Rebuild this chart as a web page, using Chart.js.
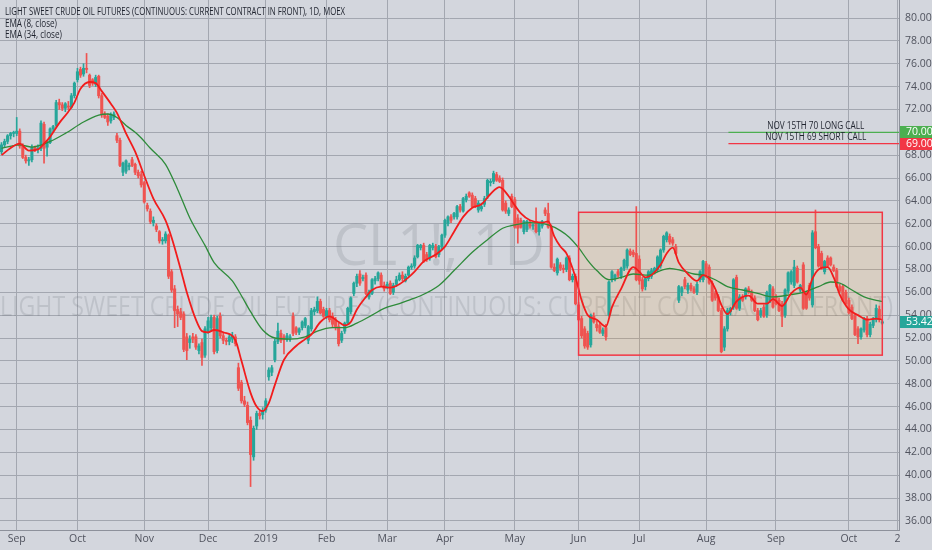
<!DOCTYPE html>
<html>
<head>
<meta charset="utf-8">
<script src="https://cdn.jsdelivr.net/npm/chart.js@4.4.0/dist/chart.umd.min.js"></script>
<style>
  html, body { margin: 0; padding: 0; background: #d3d6dd; overflow: hidden; }
</style>
</head>
<body>
<canvas id="chart" width="932" height="550"></canvas>
<script>
// month label shown at the first bar of each month, and how many daily bars each month has
const monthLabels = ['', 'Sep', 'Oct', 'Nov', 'Dec', '2019', 'Feb', 'Mar', 'Apr', 'May', 'Jun', 'Jul', 'Aug', 'Sep', 'Oct'];
const barsPerMonth = [5, 20, 22, 21, 19, 20, 20, 19, 23, 21, 20, 22, 23, 24, 12];
const futureLabels = ['', '', '', '', '2'];

// daily candles: [open, high, low, close]
const candles = [
  // Aug 2018
  [68.3,69.1,68.1,68.9],[68.9,69.4,68.7,69.2],[69.2,69.8,69.0,69.7],[69.7,70.0,69.4,69.9],[69.9,70.1,69.6,70.0],
  // Sep
  [69.9,71.3,69.7,70.1],[70.1,70.3,68.6,68.8],[68.8,69.0,67.7,67.8],[67.8,68.0,67.3,67.5],[67.5,67.8,67.1,67.6],
  [67.6,68.9,67.4,68.7],[68.7,68.8,68.3,68.5],[68.5,68.9,68.2,68.6],[68.6,71.0,68.4,70.8],[70.7,70.9,67.3,68.6],
  [68.7,69.3,67.9,69.1],[69.1,70.4,69.0,70.3],[70.3,70.6,70.0,70.5],[70.6,72.8,70.5,72.6],[72.6,72.9,72.0,72.4],
  [72.4,72.6,71.9,72.1],[72.1,72.6,71.8,72.5],[72.3,72.7,72.0,72.2],[72.2,73.4,72.1,73.2],[73.2,74.4,73.0,74.3],
  // Oct
  [74.6,75.6,74.4,75.3],[75.5,75.7,74.8,75.0],[75.1,76.0,74.9,75.6],[75.6,76.9,75.2,75.5],[75.0,75.1,73.9,74.1],
  [74.6,74.7,74.1,74.3],[74.2,75.0,74.0,74.8],[74.9,75.0,73.0,73.2],[73.2,73.4,71.3,71.6],[71.6,71.8,71.2,71.3],
  [71.4,71.6,70.6,70.9],[71.0,71.7,70.8,71.5],[71.3,71.8,71.1,71.6],[69.7,69.9,69.1,69.3],[69.3,69.5,67.0,67.1],
  [66.5,67.4,66.2,67.3],[66.6,67.6,66.4,67.5],[67.0,67.3,66.7,67.1],[67.6,67.8,67.0,67.1],[67.2,67.3,66.3,66.5],
  [66.5,66.7,66.0,66.2],[66.3,66.6,65.2,65.4],
  // Nov
  [65.6,65.7,63.8,63.9],[63.6,63.8,63.1,63.3],[63.1,63.3,62.0,62.2],[62.1,62.6,61.8,62.3],[61.8,62.0,61.3,61.5],
  [61.3,61.4,60.3,60.5],[60.5,60.8,60.2,60.6],[60.5,61.3,60.3,61.1],[61.0,61.1,57.2,57.4],[57.8,58.0,56.0,56.2],
  [56.3,56.6,52.9,54.4],[54.5,54.8,53.0,54.1],[54.3,54.6,53.6,53.8],[54.1,54.3,50.8,51.0],[52.1,52.4,50.1,50.9],
  [51.6,52.2,51.1,51.9],[52.1,52.4,51.6,51.9],[52.1,52.3,51.0,51.2],[50.9,51.5,50.6,51.3],[51.6,51.9,49.6,50.3],
  [50.5,53.0,50.3,52.8],
  // Dec
  [52.6,53.8,52.4,53.5],[52.9,54.0,52.6,53.8],[53.8,54.0,50.6,50.8],[50.9,53.9,50.7,53.7],[53.9,54.2,52.0,52.2],
  [52.2,52.5,51.5,51.8],[51.8,52.0,51.4,51.7],[51.7,52.3,51.4,52.1],[51.9,52.5,51.6,52.2],[52.1,52.3,51.3,51.5],
  [49.4,49.8,47.4,47.6],[48.1,48.3,46.3,46.5],[46.5,46.9,46.0,46.2],[46.1,46.4,44.4,44.6],[44.8,45.1,39.0,41.8],
  [41.6,44.3,41.3,44.1],[44.3,45.6,44.0,45.4],[45.4,45.6,44.9,45.2],[45.3,45.9,44.9,45.6],
  // Jan 2019
  [45.7,46.7,45.5,46.5],[48.6,49.4,48.3,49.2],[49.0,49.6,48.7,49.4],[50.1,51.9,49.9,51.7],[51.7,53.3,51.5,52.6],
  [52.4,52.7,51.6,51.8],[52.1,52.3,50.6,51.9],[51.9,52.4,51.7,52.2],[52.0,52.3,51.7,52.1],[53.9,54.2,52.2,52.4],
  [52.9,53.0,52.3,52.5],[52.5,52.9,52.3,52.8],[52.9,53.5,52.7,53.4],[53.1,53.8,52.9,53.7],[51.8,53.1,51.5,53.0],
  [52.8,54.6,52.6,54.4],[54.3,54.7,54.0,54.5],[54.4,55.6,54.2,55.2],[55.2,55.4,54.1,54.2],[54.5,54.7,53.8,53.9],
  // Feb
  [53.9,54.6,53.7,54.4],[54.4,54.6,53.4,53.6],[53.9,54.2,52.9,53.2],[53.6,53.8,52.7,53.0],[53.0,53.3,51.3,51.5],
  [51.8,52.6,51.6,52.4],[52.6,53.4,52.4,53.3],[53.3,54.7,53.2,54.6],[54.3,55.6,54.1,55.5],[55.9,56.9,55.7,56.8],
  [56.8,57.6,56.5,57.4],[57.6,57.9,56.6,56.8],[57.2,57.5,57.0,57.3],[57.5,57.7,55.8,55.9],[55.6,56.2,55.4,56.0],
  [55.9,57.2,55.8,57.1],[57.0,57.4,56.7,57.2],[57.2,57.8,57.0,57.7],[57.5,57.7,56.5,56.6],[56.6,56.9,56.1,56.3],
  // Mar
  [56.5,56.9,56.3,56.7],[56.8,57.0,55.8,55.9],[56.0,56.8,55.8,56.6],[56.7,57.4,56.5,57.1],[57.1,57.7,57.0,57.5],
  [57.5,57.8,57.0,57.2],[57.0,57.6,56.9,57.4],[57.5,58.3,57.4,58.2],[58.2,58.5,58.0,58.3],[58.3,59.2,58.1,59.0],
  [59.1,60.2,59.0,60.1],[59.9,60.2,59.7,60.1],[60.1,60.3,58.6,58.7],[59.3,59.5,58.7,58.9],[59.0,60.2,58.8,60.1],
  [59.9,60.3,59.7,60.1],[60.0,60.2,59.0,59.1],[59.3,60.1,59.1,60.0],[60.0,61.1,59.8,61.0],
  // Apr
  [61.0,62.4,60.8,62.3],[62.0,62.7,61.8,62.6],[62.6,62.8,62.1,62.3],[62.6,63.0,62.4,62.9],[62.6,63.6,62.4,63.5],
  [63.5,63.7,63.0,63.2],[63.1,64.3,63.0,64.2],[64.1,64.6,63.9,64.4],[64.7,64.8,64.3,64.4],[64.5,64.7,63.4,63.5],
  [64.2,64.4,63.4,63.5],[63.2,64.0,63.0,63.8],[63.3,63.8,63.1,63.5],[63.7,64.4,63.5,64.2],[64.4,65.9,64.2,65.8],
  [65.6,65.9,65.3,65.7],[65.7,66.6,65.5,66.4],[66.3,66.5,65.7,65.8],[66.0,66.2,65.6,65.7],[65.8,66.0,63.1,63.2],
  [63.8,64.0,62.9,63.1],[62.9,63.4,62.7,63.2],[64.4,64.6,63.4,63.5],
  // May
  [64.1,64.3,61.6,61.7],[62.5,62.8,60.3,61.6],[62.3,62.5,61.6,61.7],[61.3,62.3,61.1,62.2],[61.5,62.3,61.3,62.2],
  [62.0,62.3,61.6,61.8],[61.8,62.0,61.5,61.9],[62.2,63.4,61.2,61.3],[61.3,62.1,61.0,62.0],[61.8,62.3,61.6,62.2],
  [63.2,63.4,62.7,62.9],[62.9,63.8,61.6,61.7],[61.7,61.9,58.1,58.2],[58.2,58.5,57.8,57.9],[57.7,59.0,57.5,58.9],
  [58.4,58.6,57.9,58.1],[58.1,58.4,57.7,58.0],[58.0,59.1,57.8,59.0],[59.0,59.2,57.0,57.1],[57.1,57.6,56.9,57.4],
  [57.4,57.6,54.9,55.0],
  // Jun
  [54.9,55.1,53.5,53.6],[53.7,53.9,52.0,52.2],[52.8,53.0,51.1,51.3],[52.4,52.6,51.0,51.2],[51.4,54.1,51.2,54.0],
  [53.9,54.2,53.3,53.4],[53.2,53.5,52.6,52.9],[53.1,53.4,52.4,52.5],[52.4,52.9,52.2,52.7],[52.9,53.2,51.8,52.1],
  [54.0,57.0,53.9,56.9],[57.1,57.9,56.9,57.8],[57.2,57.6,57.0,57.5],[57.8,58.0,57.3,57.5],[57.4,58.2,57.2,58.1],
  [58.1,58.9,57.9,58.8],[58.3,59.8,58.1,59.7],[59.6,59.8,59.2,59.3],[59.5,59.7,59.1,59.3],[59.4,63.5,57.0,57.1],
  // Jul
  [58.9,59.2,56.7,57.0],[57.1,57.3,56.1,56.3],[56.5,57.3,56.2,57.2],[57.2,57.9,57.0,57.8],[57.4,58.1,57.2,57.9],
  [57.8,58.2,57.6,58.1],[58.0,59.2,57.8,59.1],[58.3,59.8,58.1,59.7],[59.7,61.0,59.5,60.9],[60.6,61.3,60.4,61.2],
  [60.9,61.1,60.2,60.4],[60.6,60.8,60.1,60.3],[60.0,60.2,59.3,59.4],[55.3,56.6,55.1,56.5],[56.0,56.5,55.7,56.4],
  [57.1,57.3,56.3,56.5],[56.2,56.8,55.9,56.6],[56.6,56.8,56.1,56.3],[56.3,56.5,55.9,56.0],[56.0,56.9,55.8,56.7],
  [57.1,57.9,56.9,57.8],[57.1,58.8,56.9,58.7],
  // Aug
  [58.5,58.7,57.3,57.5],[58.2,58.4,56.7,56.8],[56.8,57.0,55.2,55.3],[55.9,56.1,55.3,55.5],[55.6,55.8,54.3,54.4],
  [54.4,54.6,50.7,50.8],[51.2,53.0,50.9,52.8],[52.8,54.6,52.6,54.4],[54.3,54.7,54.0,54.6],[54.7,57.2,54.5,57.1],
  [57.3,57.5,54.5,54.6],[54.6,55.8,54.4,55.6],[55.6,55.8,55.2,55.3],[55.6,56.4,55.4,56.3],[56.3,56.5,55.9,56.0],
  [56.0,56.2,55.2,55.3],[55.5,55.7,54.3,54.4],[54.4,54.6,53.5,53.6],[54.0,54.6,53.8,54.4],[54.7,54.9,53.8,53.9],
  [54.0,56.1,53.8,56.0],[55.3,56.7,55.1,56.6],[56.3,56.5,54.6,54.7],
  // Sep
  [55.6,55.8,54.9,55.0],[55.3,55.5,54.3,54.4],[55.0,55.2,53.0,53.9],[54.0,56.3,53.8,56.2],[56.1,57.8,55.9,57.7],
  [56.9,57.9,56.7,57.8],[56.6,58.8,56.4,58.2],[58.1,58.3,56.8,56.9],[56.2,56.7,56.0,56.6],[58.4,58.6,54.5,54.6],
  [55.9,56.1,54.5,54.6],[56.6,56.8,55.3,55.5],[54.9,61.4,54.7,61.2],[61.3,63.2,59.8,59.9],[60.0,60.2,58.2,58.3],
  [59.4,59.6,58.0,58.1],[57.8,58.8,57.6,58.7],[59.0,59.2,58.2,58.3],[59.0,59.1,58.3,58.4],[58.2,58.4,57.8,57.9],
  [57.9,58.1,56.4,56.5],[56.5,56.7,56.0,56.1],[56.5,56.7,55.2,55.3],[56.0,56.2,54.9,55.0],
  // Oct
  [55.3,55.5,54.1,54.2],[54.7,54.9,53.6,53.7],[53.9,54.1,52.2,52.3],[52.8,53.0,51.5,52.1],[52.1,52.9,51.9,52.8],
  [52.7,53.8,52.5,53.7],[53.7,53.9,52.1,52.3],[52.3,53.4,52.1,53.2],[53.1,53.8,52.9,53.6],[53.6,54.9,53.4,54.6],
  [54.5,54.8,53.4,53.6],[53.3,53.6,53.2,53.42]
];

// EMA values at some bars: [bar, value]
const ema8Points = [
  [0,68.0],[4,68.8],[6,69.0],[9,68.4],[12,68.5],[14,69.0],[16,69.6],[19,70.8],[22,71.8],[24,72.6],
  [26,73.8],[29,74.4],[31,74.3],[33,73.6],[36,72.5],[38,71.7],[41,69.9],[44,68.3],[47,66.2],[50,64.2],
  [54,62.3],[56,60.8],[59,58.0],[61,56.0],[64,53.6],[66,52.6],[68,52.5],[70,52.7],[73,52.5],[77,51.8],
  [79,50.0],[82,47.2],[84,46.0],[86,45.6],[88,46.3],[90,47.9],[93,50.1],[97,51.3],[100,51.9],[102,52.3],
  [105,53.4],[108,53.9],[111,53.4],[113,53.1],[115,53.4],[117,54.5],[120,55.6],[122,56.2],[125,56.5],[128,56.4],
  [131,56.7],[134,57.3],[136,57.8],[139,58.7],[143,59.3],[146,60.0],[149,61.3],[152,62.6],[155,63.4],[158,63.7],
  [161,64.6],[164,65.2],[167,64.4],[169,63.6],[171,62.9],[174,62.3],[178,62.1],[180,62.2],[182,60.9],[184,60.0],
  [186,59.4],[189,57.3],[191,55.3],[193,54.0],[196,53.6],[199,53.0],[201,54.7],[204,56.3],[208,58.2],[210,57.8],
  [212,57.3],[214,57.5],[217,58.4],[219,59.4],[221,59.9],[223,58.6],[226,57.6],[229,57.0],[231,57.5],[233,57.2],
  [235,56.3],[237,54.9],[239,54.1],[242,55.2],[246,55.7],[249,55.0],[252,55.0],[254,55.4],[257,54.8],[260,55.9],
  [263,56.4],[265,55.8],[267,57.2],[269,58.0],[272,58.2],[274,57.3],[276,55.8],[279,54.5],[282,54.0],[285,53.6],
  [288,53.7],[290,53.6]
];
const ema34Points = [
  [0,68.6],[6,68.9],[10,68.7],[16,69.2],[21,69.9],[27,70.9],[32,71.5],[35,71.6],[38,71.3],[41,70.6],
  [44,70.0],[46,69.5],[49,68.6],[54,67.2],[58,65.0],[62,62.5],[67,60.1],[70,58.6],[76,57.0],[79,55.7],
  [82,54.3],[86,52.7],[90,52.0],[95,51.9],[100,52.1],[104,52.6],[109,52.9],[113,52.9],[117,53.3],[122,54.0],
  [126,54.6],[131,55.0],[135,55.4],[138,55.7],[144,56.6],[149,57.9],[155,59.5],[160,60.6],[165,61.6],[169,61.9],
  [174,62.1],[180,61.9],[184,61.4],[187,60.8],[190,59.9],[193,58.8],[196,57.9],[200,57.1],[204,57.3],[208,57.6],
  [213,57.5],[217,57.9],[220,58.1],[224,57.9],[228,57.6],[231,57.5],[235,57.1],[239,56.5],[244,56.2],[249,55.9],
  [254,55.6],[260,55.8],[264,56.0],[269,56.5],[273,56.9],[276,56.8],[280,56.2],[284,55.6],[288,55.3],[290,55.2]
];

const yTickValues = [36,38,40,42,44,46,48,50,52,54,56,58,60,62,64,66,68,70,72,74,76,78,80];
const callLevels = [70, 69];
const callNames = ['NOV 15TH 70 LONG CALL', 'NOV 15TH 69 SHORT CALL'];
const callFromBar = 240;
const lastPrice = 53.42;
const zoneBars = [190, 290];
const zonePrices = [63.0, 50.5];

const UP = '#26a69a', DOWN = '#ef5350';
const FONT = '"Liberation Sans Narrow", "Open Sans", sans-serif';

const labels = [];
monthLabels.forEach((m, k) => {
  for (let j = 0; j < barsPerMonth[k]; j++) labels.push(j === 0 ? m : '');
});
futureLabels.forEach(l => labels.push(l));

function sparse(points) {
  const arr = labels.map(() => null);
  points.forEach(([i, v]) => { arr[i] = v; });
  return arr;
}

const candleColors = candles.map(c => (c[3] >= c[0] ? UP : DOWN));

const background = {
  id: 'background',
  beforeDraw(chart) {
    const c = chart.ctx;
    c.save();
    c.fillStyle = '#d3d6dd';
    c.fillRect(0, 0, chart.width, chart.height);
    c.restore();
  }
};

const underlay = {
  id: 'underlay',
  beforeDatasetsDraw(chart) {
    const { ctx, scales: { x, y } } = chart;
    ctx.save();
    ctx.fillStyle = 'rgba(110,114,126,0.2)';
    ctx.textBaseline = 'middle';
    ctx.textAlign = 'center';
    ctx.font = '56px ' + FONT;
    ctx.fillText('CL1!, 1D', 439, 249, 212);
    ctx.textAlign = 'left';
    ctx.font = '27px ' + FONT;
    ctx.fillText('LIGHT SWEET CRUDE OIL FUTURES (CONTINUOUS: CURRENT CONTRACT IN FRONT)', 0, 308, 893);

    const x0 = x.getPixelForValue(zoneBars[0]), x1 = x.getPixelForValue(zoneBars[1]);
    const y0 = y.getPixelForValue(zonePrices[0]), y1 = y.getPixelForValue(zonePrices[1]);
    ctx.fillStyle = 'rgba(255,152,0,0.12)';
    ctx.fillRect(x0, y0, x1 - x0, y1 - y0);
    ctx.restore();
  },
  afterDatasetsDraw(chart) {
    const { ctx, chartArea: a, scales: { x, y } } = chart;
    ctx.save();
    const x0 = x.getPixelForValue(zoneBars[0]), x1 = x.getPixelForValue(zoneBars[1]);
    const y0 = y.getPixelForValue(zonePrices[0]), y1 = y.getPixelForValue(zonePrices[1]);
    ctx.strokeStyle = '#f23645';
    ctx.lineWidth = 1.5;
    ctx.strokeRect(x0, y0, x1 - x0, y1 - y0);

    const lineColors = ['#4caf50', '#f23645'];
    const xs = x.getPixelForValue(callFromBar) - 2;
    callLevels.forEach((lvl, k) => {
      const yy = y.getPixelForValue(lvl);
      ctx.strokeStyle = lineColors[k];
      ctx.lineWidth = 1.2;
      ctx.beginPath();
      ctx.moveTo(xs, yy);
      ctx.lineTo(a.right, yy);
      ctx.stroke();
      ctx.fillStyle = '#1e222d';
      ctx.font = '10.5px ' + FONT;
      ctx.textAlign = 'center';
      ctx.textBaseline = 'bottom';
      ctx.fillText(callNames[k], (xs + a.right) / 2 + 2, yy - 1.5, k === 0 ? 97 : 101);
    });
    ctx.restore();
  },
  afterDraw(chart) {
    const { ctx, chartArea: a, scales: { y } } = chart;
    ctx.save();
    const tags = [[callLevels[0], '#4caf50'], [callLevels[1], '#f23645'], [lastPrice, UP]];
    ctx.font = '10.5px ' + FONT;
    ctx.textBaseline = 'middle';
    ctx.textAlign = 'left';
    tags.forEach(([v, col]) => {
      const yy = Math.round(y.getPixelForValue(v));
      ctx.fillStyle = col;
      ctx.fillRect(a.right + 1, yy - 6, chart.width - a.right - 1, 12);
      ctx.fillStyle = '#ffffff';
      ctx.fillText(v.toFixed(2), a.right + 7, yy + 0.5);
    });

    ctx.fillStyle = '#1e222d';
    ctx.textBaseline = 'middle';
    ctx.font = '11.5px ' + FONT;
    ctx.fillText('LIGHT SWEET CRUDE OIL FUTURES (CONTINUOUS: CURRENT CONTRACT IN FRONT), 1D, MOEX', 5, 11.5, 340);
    ctx.font = '11px ' + FONT;
    ctx.fillText('EMA (8, close)', 5, 23.5, 52);
    ctx.fillText('EMA (34, close)', 5, 34.5, 57);
    ctx.restore();
  }
};

new Chart(document.getElementById('chart'), {
  type: 'bar',
  data: {
    labels: labels,
    datasets: [
      {
        type: 'line',
        label: 'EMA 8',
        data: sparse(ema8Points),
        borderColor: '#f21c1c',
        borderWidth: 1.8,
        pointRadius: 0,
        spanGaps: true,
        tension: 0.4,
        cubicInterpolationMode: 'monotone',
        order: 0
      },
      {
        type: 'line',
        label: 'EMA 34',
        data: sparse(ema34Points),
        borderColor: '#2e8b3a',
        borderWidth: 1.3,
        pointRadius: 0,
        spanGaps: true,
        tension: 0.4,
        cubicInterpolationMode: 'monotone',
        order: 1
      },
      {
        label: 'body',
        data: candles.map(c => [c[0], c[3]]),
        backgroundColor: candleColors,
        barThickness: 2.4,
        minBarLength: 1,
        grouped: false,
        order: 2
      },
      {
        label: 'wick',
        data: candles.map(c => [c[2], c[1]]),
        backgroundColor: candleColors,
        barThickness: 1,
        grouped: false,
        order: 3
      }
    ]
  },
  options: {
    responsive: false,
    animation: false,
    devicePixelRatio: 1,
    layout: { padding: 0 },
    plugins: {
      legend: { display: false },
      tooltip: { enabled: false }
    },
    scales: {
      x: {
        type: 'category',
        offset: true,
        grid: {
          offset: false,
          drawTicks: false,
          color: ctx => (ctx.tick && ctx.tick.label ? '#a3a7b0' : 'rgba(0,0,0,0)'),
          lineWidth: 1
        },
        border: { display: true, color: '#8d919b' },
        ticks: {
          autoSkip: false,
          maxRotation: 0,
          padding: 3,
          color: '#50535e',
          font: { family: FONT, size: 10.5 }
        },
        afterFit: s => { s.height = 20; s.paddingLeft = 0; s.paddingRight = 0; }
      },
      y: {
        position: 'right',
        min: 35.2,
        max: 81.575,
        afterBuildTicks: s => { s.ticks = yTickValues.map(v => ({ value: v })); },
        afterFit: s => { s.width = 33; s.paddingTop = 0; s.paddingBottom = 0; },
        grid: { color: '#a3a7b0', drawTicks: false, lineWidth: 1 },
        border: { display: true, color: '#8d919b' },
        ticks: {
          padding: 6,
          color: '#50535e',
          font: { family: FONT, size: 10.5 },
          callback: v => Number(v).toFixed(2)
        }
      }
    }
  },
  plugins: [background, underlay]
});
</script>
</body>
</html>
